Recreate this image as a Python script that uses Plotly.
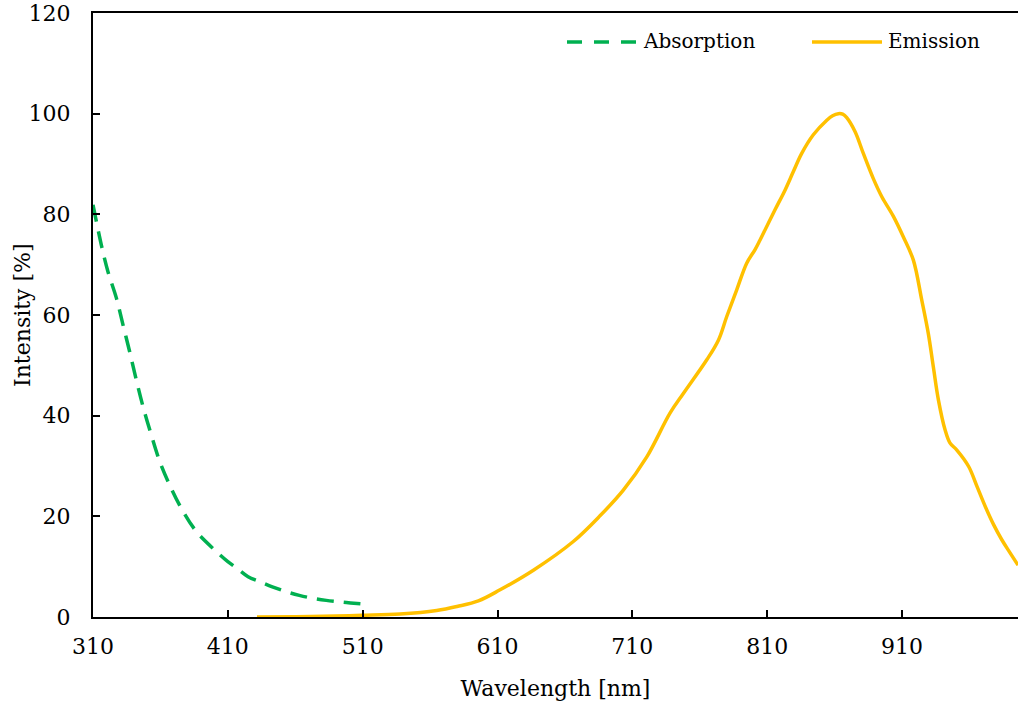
import plotly.graph_objects as go

# Absorption (nm, %)
abs_wl = [310, 316.2, 321.1, 327.3, 332.3, 337.2, 342.1, 347.1, 353.2, 359.5, 366.9,
          375.5, 386.6, 400.3, 410.0, 416.6, 425.0, 433.9, 443.0, 453.7, 463.0, 473.4,
          483.0, 493.2, 501.0, 509.3]
abs_val = [81.9, 73.9, 68.6, 63.4, 58.0, 52.7, 47.1, 41.8, 36.2, 30.9, 26.2,
           21.6, 17.0, 13.3, 11.0, 9.7, 8.0, 7.0, 6.0, 5.0, 4.3, 3.7,
           3.3, 3.0, 2.8, 2.6]

# Emission (nm, %)
em_wl = [431.6, 460, 490, 509.5, 537.7, 564.9, 580, 595.8, 611.9, 636.6, 666.2, 686,
         703.3, 720.7, 737.9, 747.8, 765.2, 773.8, 780, 787.4, 794.8, 801, 804.7,
         815.8, 823.2, 829.4, 835.6, 844.2, 854.2, 858.5, 862.8, 866, 869, 875.2, 881.3,
         888.7, 895, 903.6, 911, 918.4, 924.6, 929.5, 933.2, 937, 941.9, 945.5,
         950.5, 959.4, 965.5, 971.8, 978, 984.1, 990, 996]
em_val = [0.0, 0.05, 0.2, 0.35, 0.6, 1.3, 2.1, 3.2, 5.4, 9.3, 15.0, 20.1,
          25.2, 31.8, 40.5, 44.4, 51.1, 55.0, 59.7, 65.0, 70.3, 73.0, 74.9,
          80.9, 84.8, 88.5, 92.1, 95.8, 98.7, 99.6, 100.0, 99.9, 99.2, 96.4, 92.1,
          87.1, 83.5, 79.6, 75.5, 70.9, 63.0, 56.3, 49.7, 43.1, 37.2, 34.6,
          33.2, 29.9, 26.0, 21.9, 18.3, 15.3, 12.8, 10.3]

x_ticks = [310, 410, 510, 610, 710, 810, 910]
y_ticks = [0, 20, 40, 60, 80, 100, 120]

GREEN = "#00b050"
YELLOW = "#ffc000"
FONT = "DejaVu Serif"
FS = 22

fig = go.Figure()
fig.add_trace(go.Scatter(x=abs_wl, y=abs_val, mode="lines", name="Absorption",
                         line=dict(color=GREEN, width=3.5, dash="17px,10px", shape="spline"),
                         showlegend=False))
fig.add_trace(go.Scatter(x=em_wl, y=em_val, mode="lines", name="Emission",
                         line=dict(color=YELLOW, width=3.5, shape="spline"),
                         showlegend=False))

# manual legend
def px_x(px):
    return (px - 93) / 925.0

def px_y(py):
    return (617 - py) / 604.0

ly = px_y(42)
fig.add_shape(type="line", xref="paper", yref="paper", x0=px_x(567), x1=px_x(637), y0=ly, y1=ly,
              line=dict(color=GREEN, width=3.5, dash="15px,12px"))
fig.add_shape(type="line", xref="paper", yref="paper", x0=px_x(812), x1=px_x(882), y0=ly, y1=ly,
              line=dict(color=YELLOW, width=3.5))
fig.add_annotation(xref="paper", yref="paper", x=px_x(641), y=px_y(41), text="Absorption",
                   showarrow=False, xanchor="left", yanchor="middle",
                   font=dict(family=FONT, size=20, color="black"))
fig.add_annotation(xref="paper", yref="paper", x=px_x(886), y=px_y(41), text="Emission",
                   showarrow=False, xanchor="left", yanchor="middle",
                   font=dict(family=FONT, size=20, color="black"))
# y-axis title
fig.add_annotation(xref="paper", yref="paper", x=px_x(22), y=px_y(315), text="Intensity [%]",
                   showarrow=False, xanchor="center", yanchor="middle", textangle=-90,
                   font=dict(family=FONT, size=FS, color="black"))

fig.update_layout(
    width=1018, height=710,
    margin=dict(l=93, r=0, t=13, b=93),
    paper_bgcolor="white", plot_bgcolor="white",
    font=dict(family=FONT, size=FS, color="black"),
    showlegend=False,
    xaxis=dict(range=[310, 996], tickmode="array", tickvals=x_ticks,
               ticktext=[str(v) for v in x_ticks],
               ticks="inside", ticklen=7, tickwidth=1.5, tickcolor="black",
               showline=True, linecolor="black", linewidth=2, mirror=True,
               showgrid=False, zeroline=False, ticklabelstandoff=9,
               tickfont=dict(family=FONT, size=FS),
               title=dict(text="Wavelength [nm]", standoff=22,
                          font=dict(family=FONT, size=FS))),
    yaxis=dict(range=[0, 120], tickmode="array", tickvals=y_ticks,
               ticktext=[str(v) for v in y_ticks],
               ticks="inside", ticklen=7, tickwidth=1.5, tickcolor="black",
               showline=True, linecolor="black", linewidth=2,
               showgrid=False, zeroline=False, ticklabelstandoff=16,
               tickfont=dict(family=FONT, size=FS)),
)

fig.write_html("out.html")
